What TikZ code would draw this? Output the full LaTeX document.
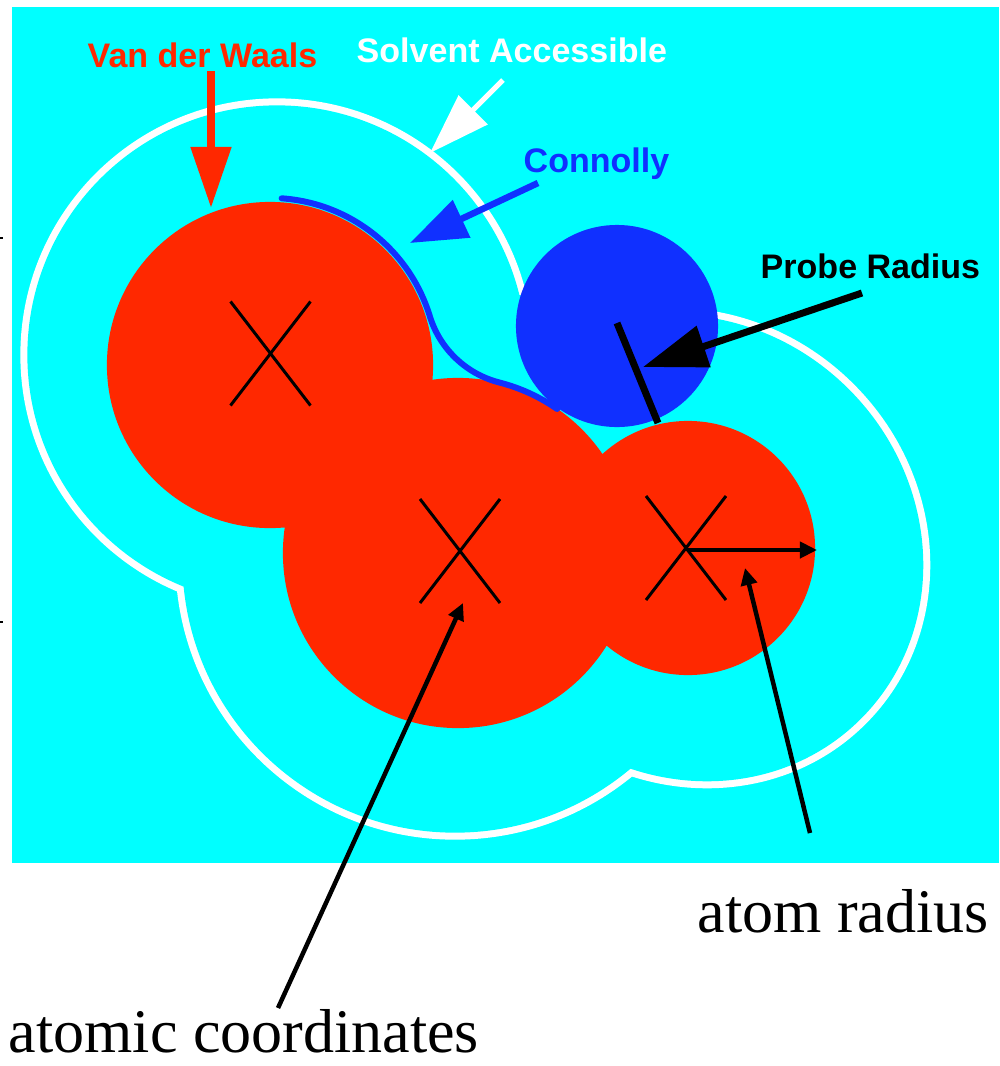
\documentclass[tikz,border=0pt]{standalone}
\usepackage{fontspec}
\setmainfont{Liberation Serif}
\newfontfamily\lblfont{Liberation Sans}
\usetikzlibrary{arrows.meta,calc}
\definecolor{bgcyan}{RGB}{0,255,255}
\definecolor{atomred}{RGB}{255,40,0}
\definecolor{probeblue}{RGB}{16,48,255}
\begin{document}
\begin{tikzpicture}[x=0.01cm,y=-0.01cm,
  lbl/.style={font=\lblfont\bfseries\fontsize{9.68pt}{11pt}\selectfont, inner sep=0pt, anchor=base west},
  captxt/.style={font=\fontsize{17.64pt}{20pt}\selectfont, inner sep=0pt, anchor=base west, text=black},
  xmark/.style={draw=black, line width=0.03cm},
  vdwarrow/.style={draw=atomred, line width=0.08cm, -{Triangle[length=0.61cm,width=0.39cm]}},
  sasarrow/.style={draw=white, line width=0.05cm, -{Triangle[length=0.61cm,width=0.40cm]}},
  conarrow/.style={draw=probeblue, line width=0.065cm, -{Triangle[length=0.57cm,width=0.40cm]}},
  prbarrow/.style={draw=black, line width=0.07cm, -{Triangle[length=0.64cm,width=0.42cm]}},
  ptrarrow/.style={draw=black, line width=0.045cm, -{Triangle[length=0.17cm,width=0.16cm]}},
  radarrow/.style={draw=black, line width=0.04cm, -{Triangle[length=0.17cm,width=0.16cm]}},
  surfline/.style={draw=probeblue, line width=0.06cm, line join=round, line cap=round}
]
\useasboundingbox (0,0) rectangle (999,1066);
% background
\fill[bgcyan] (12,7) rectangle (999,863);
% tiny edge marks
\draw[black, line width=0.02cm] (0,238) -- (3,238);
\draw[black, line width=0.02cm] (0,622) -- (3,622);
% solvent accessible surface (white ring on union boundary)
\fill[white] (277,355) circle[radius=2.565cm] (455,560) circle[radius=2.795cm];
\fill[white, shift={(690,548)}, rotate=-45] (0,0) ellipse[x radius=2.485cm, y radius=2.315cm];
\fill[bgcyan] (277,355) circle[radius=2.495cm] (455,560) circle[radius=2.725cm];
\fill[bgcyan, shift={(690,548)}, rotate=-45] (0,0) ellipse[x radius=2.415cm, y radius=2.245cm];
% atoms (van der Waals)
\fill[atomred] (270,365) circle[radius=1.63cm] (458,553) circle[radius=1.75cm] (688,548) circle[radius=1.27cm];
% Connolly surface line
\draw[surfline] (270,365) ++(86:1.67cm) arc[start angle=86, end angle=17, radius=1.67cm]
  arc[start angle=197, end angle=255.7, radius=0.98cm]
  arc[start angle=75.66, end angle=55.1, radius=1.78cm];
% probe
\fill[probeblue] (617,326) circle[radius=1.01cm];
\coordinate (pc) at (617,323);
\coordinate (pt) at (658,423);
\draw[black, line width=0.07cm] (pc) -- (pt);
% atom centres
\coordinate (cA) at (270.5,353.5);
\coordinate (cB) at (460,551);
\coordinate (cC) at (686,548);
\foreach \c in {cA,cB,cC}{
  \draw[xmark] ($(\c)+(-40,-52)$) -- ($(\c)+(40,52)$);
  \draw[xmark] ($(\c)+(40,-52)$) -- ($(\c)+(-40,52)$);
}
% labels
\node[lbl, text=atomred] (vdw) at (87,67) {Van der Waals};
\node[lbl, text=white] (sas) at (356,62) {Solvent Accessible};
\node[lbl, text=probeblue] (con) at (523,172) {Connolly};
\node[lbl, text=black] (prb) at (760,278) {Probe Radius};
\node[captxt] (arad) at (697,932) {atom radius};
\node[captxt] (acoord) at (8,1052) {atomic coordinates};
% arrows
\coordinate (vdwS) at (211,71);   \coordinate (vdwE) at (211,208);
\coordinate (sasS) at (503,80);   \coordinate (sasE) at (430,153);
\coordinate (conS) at (538,183);  \coordinate (conE) at (410,243);
\coordinate (prbS) at (862,293);  \coordinate (prbE) at (643,367);
\coordinate (acS) at (278,1008);  \coordinate (acE) at (463,603);
\coordinate (arS) at (810,833);   \coordinate (arE) at (745,568);
\coordinate (rS) at (688,550);    \coordinate (rE) at (817,550);
\draw[vdwarrow] (vdwS) -- (vdwE);
\draw[sasarrow] (sasS) -- (sasE);
\draw[conarrow] (conS) -- (conE);
\draw[prbarrow] (prbS) -- (prbE);
\draw[ptrarrow] (acS) -- (acE);
\draw[ptrarrow] (arS) -- (arE);
\draw[radarrow] (rS) -- (rE);
\end{tikzpicture}
\end{document}
